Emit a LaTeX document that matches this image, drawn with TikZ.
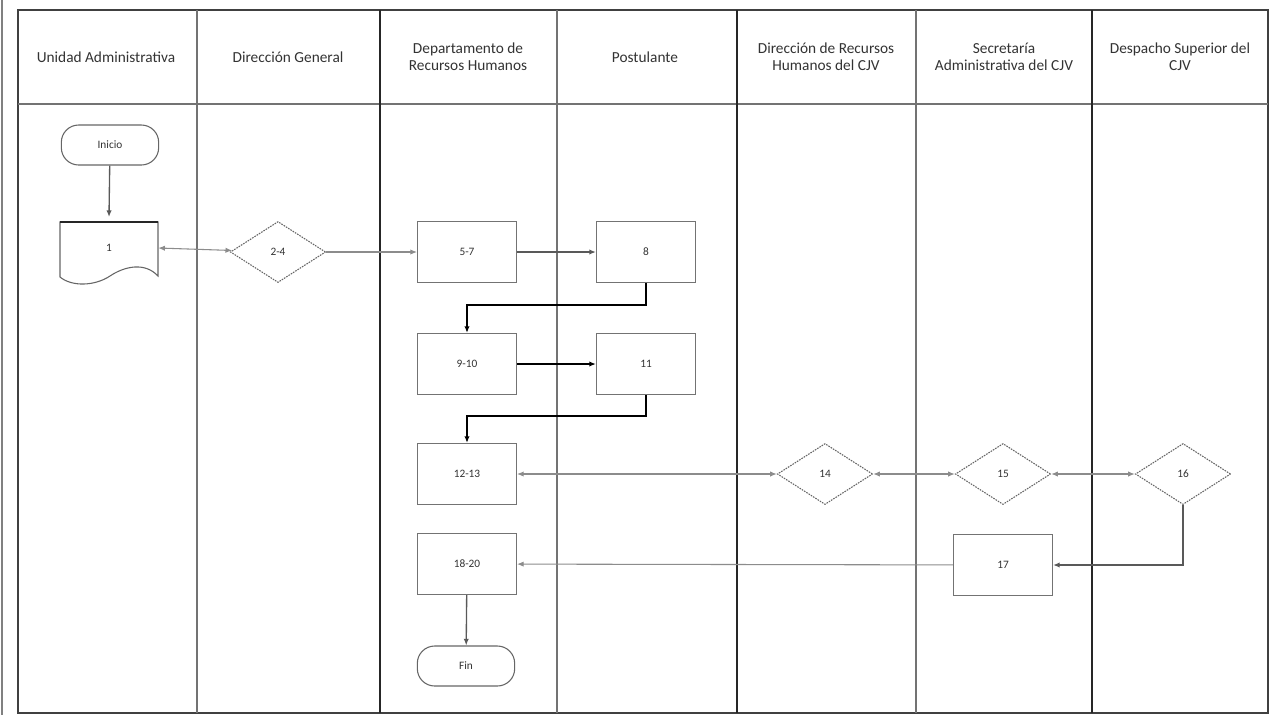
\documentclass[tikz,border=0pt]{standalone}
\usepackage{fontspec}
\setmainfont{Carlito}
\usetikzlibrary{arrows.meta,shapes.geometric}
\begin{document}
\begin{tikzpicture}[x=0.75pt,y=-0.75pt,
  frame/.style={draw=black!75,line width=1.3pt},
  lanedark/.style={draw=black!85,line width=1.2pt},
  lanelight/.style={draw=black!55,line width=0.9pt},
  hdr/.style={align=center,font=\fontsize{11.5}{13}\selectfont,text=black!80},
  lbl/.style={font=\fontsize{8.5}{10}\selectfont,text=black!80},
  box/.style={lbl,draw=black!55,line width=0.8pt,minimum width=74.25pt,minimum height=45.75pt,inner sep=0pt},
  dec/.style={lbl,diamond,draw=black!60,line width=0.8pt,dash pattern=on 1.2pt off 0.8pt,minimum width=71.5pt,minimum height=45.75pt,inner sep=0pt},
  term/.style={lbl,draw=black!60,line width=0.8pt,rounded corners=13pt,minimum width=73pt,minimum height=30pt,inner sep=0pt},
  thinc/.style={draw=black!45,line width=0.8pt,-{Latex[length=5pt,width=4pt]}},
  thincb/.style={draw=black!45,line width=0.8pt,{Latex[length=5pt,width=4pt]}-{Latex[length=5pt,width=4pt]}},
  medc/.style={draw=black!65,line width=1pt,-{Latex[length=5pt,width=4pt]}},
  boldc/.style={draw=black,line width=1.5pt,-{Latex[length=5pt,width=4pt]}}
]
\useasboundingbox (0,0) rectangle (1270,715);
\fill[white] (0,0) rectangle (1270,715);
% page edge of the scan
\draw[black!50,line width=2pt] (2,0) -- (2,715);
% frame and lanes
\draw[frame] (18,10) rectangle (1268,713);
\draw[lanelight] (18,104) -- (1268,104);
\draw[lanelight] (197,10) -- (197,713);
\draw[lanedark] (380,10) -- (380,713);
\draw[lanelight] (557,10) -- (557,713);
\draw[lanedark] (737,10) -- (737,713);
\draw[lanelight] (916,10) -- (916,713);
\draw[lanedark] (1092,10) -- (1092,713);
% headers
\node[hdr] (h1) at (106,57) {Unidad Administrativa};
\node[hdr] (h2) at (288,57) {Dirección General};
\node[hdr] (h3) at (468,57) {Departamento de\\Recursos Humanos};
\node[hdr] (h4) at (645,57) {Postulante};
\node[hdr] (h5) at (826,57) {Dirección de Recursos\\Humanos del CJV};
\node[hdr] (h6) at (1004,57) {Secretaría\\Administrativa del CJV};
\node[hdr] (h7) at (1180,57) {Despacho Superior del\\CJV};
% nodes
\node[term] (ini) at (110,145) {Inicio};
\node[minimum width=73.5pt,minimum height=46pt,inner sep=0pt,lbl] (d1) at (109,248) {1};
\draw[draw=black!60,line width=0.8pt] (60,222) -- (158,222) -- (158,276)
  .. controls (145,262) and (125,266) .. (110,276)
  .. controls (95,286) and (72,287) .. (60,277) -- cycle;
\draw[black!85,line width=1.2pt] (60,222) -- (158,222);
\node[dec] (d24) at (278,252) {2-4};
\node[box] (b57) at (467,252) {5-7};
\node[box] (b8) at (646,252) {8};
\node[box] (b910) at (467,364) {9-10};
\node[box] (b11) at (646,364) {11};
\node[box] (b1213) at (467,474) {12-13};
\node[box] (b1820) at (467,564) {18-20};
\node[term] (fin) at (466,666) {Fin};
\node[dec] (d14) at (825,474) {14};
\node[dec] (d15) at (1003,474) {15};
\node[dec] (d16) at (1183,474) {16};
\node[box] (b17) at (1003,565) {17};
% connectors
\draw[medc] (ini) -- (d1.north);
\draw[thincb] (d1.east) -- (d24);
\draw[thinc] (d24) -- (b57);
\draw[medc] (b57) -- (b8);
\draw[boldc] (b8.south) -- ++(0,22) -| (b910.north);
\draw[boldc] (b910) -- (b11);
\draw[boldc] (b11.south) -- ++(0,21) -| (b1213.north);
\draw[thincb] (b1213) -- (d14);
\draw[thincb] (d14) -- (d15);
\draw[thincb] (d15) -- (d16);
\draw[medc] (d16.south) |- (b17.east);
\draw[thinc] (b17) -- (b1820);
\draw[medc] (b1820) -- (fin);
\end{tikzpicture}
\end{document}
